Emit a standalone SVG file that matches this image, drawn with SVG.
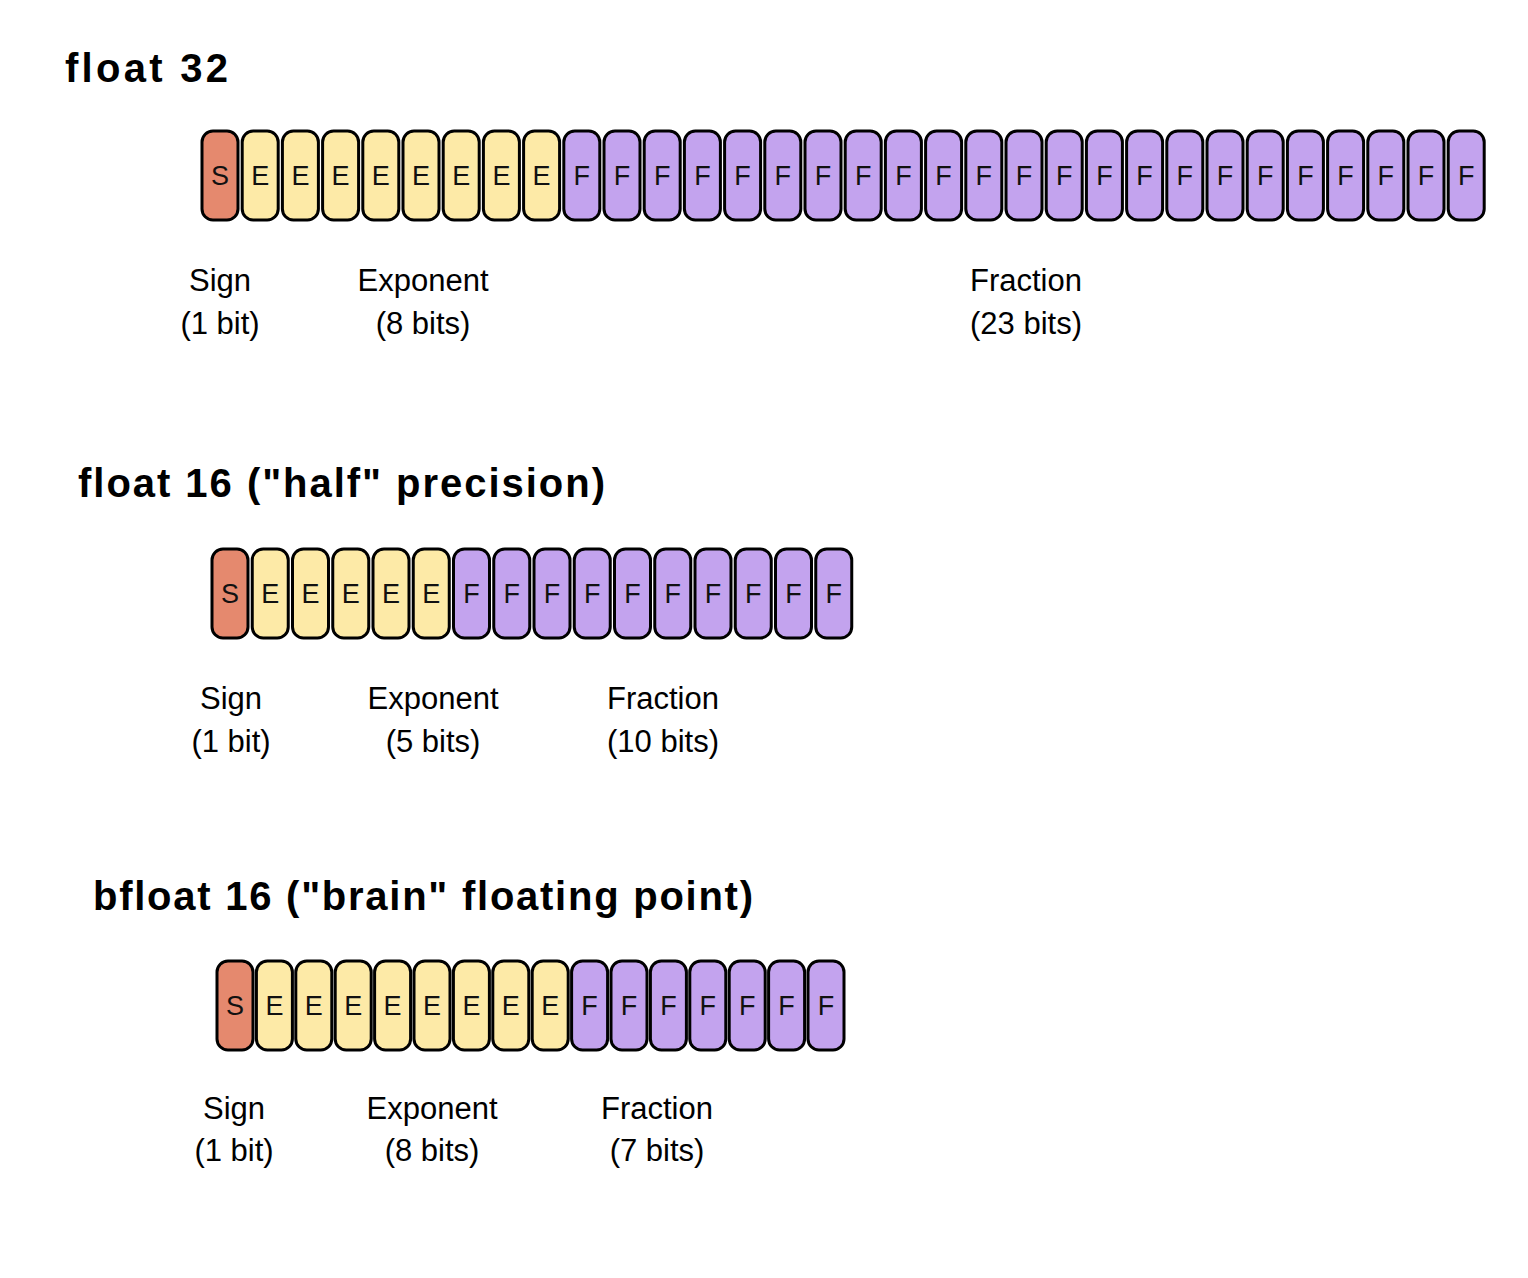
<svg xmlns="http://www.w3.org/2000/svg" xmlns:xlink="http://www.w3.org/1999/xlink" width="1528" height="1278" viewBox="0 0 1528 1278">
<style>
.c{stroke:#000;stroke-width:3}
.ct{font-family:"Liberation Sans",Arial,sans-serif;font-size:27px;text-anchor:middle;fill:#111}
.t{font-family:"Liberation Sans",Arial,sans-serif;font-weight:bold;font-size:40px;fill:#000}
.l{font-family:"Liberation Sans",Arial,sans-serif;font-size:31px;text-anchor:middle;fill:#000}
</style>
<defs>
<g id="cS"><rect class="c" x="0" y="0" width="36" height="89" rx="11" fill="#E5896E"/><text class="ct" x="18" y="54">S</text></g>
<g id="cE"><rect class="c" x="0" y="0" width="36" height="89" rx="11" fill="#FDEAA7"/><text class="ct" x="18" y="54">E</text></g>
<g id="cF"><rect class="c" x="0" y="0" width="36" height="89" rx="11" fill="#C3A3EE"/><text class="ct" x="18" y="54">F</text></g>
</defs>
<rect width="1528" height="1278" fill="#fff"/>
<g id="float32">
<text class="t" x="65" y="82" textLength="163">float 32</text>
<g transform="translate(0,131)">
<use href="#cS" x="202"/><use href="#cE" x="242.2"/><use href="#cE" x="282.4"/><use href="#cE" x="322.6"/><use href="#cE" x="362.8"/><use href="#cE" x="403"/><use href="#cE" x="443.2"/><use href="#cE" x="483.4"/><use href="#cE" x="523.6"/>
<use href="#cF" x="563.8"/><use href="#cF" x="604"/><use href="#cF" x="644.2"/><use href="#cF" x="684.4"/><use href="#cF" x="724.6"/><use href="#cF" x="764.8"/><use href="#cF" x="805"/><use href="#cF" x="845.2"/><use href="#cF" x="885.4"/><use href="#cF" x="925.6"/><use href="#cF" x="965.8"/><use href="#cF" x="1006"/><use href="#cF" x="1046.2"/><use href="#cF" x="1086.4"/><use href="#cF" x="1126.6"/><use href="#cF" x="1166.8"/><use href="#cF" x="1207"/><use href="#cF" x="1247.2"/><use href="#cF" x="1287.4"/><use href="#cF" x="1327.6"/><use href="#cF" x="1367.8"/><use href="#cF" x="1408"/><use href="#cF" x="1448.2"/>
</g>
<text class="l" x="220" y="291">Sign</text><text class="l" x="220" y="334">(1 bit)</text>
<text class="l" x="423" y="291">Exponent</text><text class="l" x="423" y="334">(8 bits)</text>
<text class="l" x="1026" y="291">Fraction</text><text class="l" x="1026" y="334">(23 bits)</text>
</g>
<g id="float16">
<text class="t" x="78" y="497" textLength="527">float 16 ("half" precision)</text>
<g transform="translate(0,549)">
<use href="#cS" x="212"/><use href="#cE" x="252.25"/><use href="#cE" x="292.5"/><use href="#cE" x="332.75"/><use href="#cE" x="373"/><use href="#cE" x="413.25"/>
<use href="#cF" x="453.5"/><use href="#cF" x="493.75"/><use href="#cF" x="534"/><use href="#cF" x="574.25"/><use href="#cF" x="614.5"/><use href="#cF" x="654.75"/><use href="#cF" x="695"/><use href="#cF" x="735.25"/><use href="#cF" x="775.5"/><use href="#cF" x="815.75"/>
</g>
<text class="l" x="231" y="709">Sign</text><text class="l" x="231" y="752">(1 bit)</text>
<text class="l" x="433" y="709">Exponent</text><text class="l" x="433" y="752">(5 bits)</text>
<text class="l" x="663" y="709">Fraction</text><text class="l" x="663" y="752">(10 bits)</text>
</g>
<g id="bfloat16">
<text class="t" x="93" y="910" textLength="660">bfloat 16 ("brain" floating point)</text>
<g transform="translate(0,961)">
<use href="#cS" x="217"/><use href="#cE" x="256.4"/><use href="#cE" x="295.8"/><use href="#cE" x="335.2"/><use href="#cE" x="374.6"/><use href="#cE" x="414"/><use href="#cE" x="453.4"/><use href="#cE" x="492.8"/><use href="#cE" x="532.2"/>
<use href="#cF" x="571.6"/><use href="#cF" x="611"/><use href="#cF" x="650.4"/><use href="#cF" x="689.8"/><use href="#cF" x="729.2"/><use href="#cF" x="768.6"/><use href="#cF" x="808"/>
</g>
<text class="l" x="234" y="1119">Sign</text><text class="l" x="234" y="1161">(1 bit)</text>
<text class="l" x="432" y="1119">Exponent</text><text class="l" x="432" y="1161">(8 bits)</text>
<text class="l" x="657" y="1119">Fraction</text><text class="l" x="657" y="1161">(7 bits)</text>
</g>
</svg>
